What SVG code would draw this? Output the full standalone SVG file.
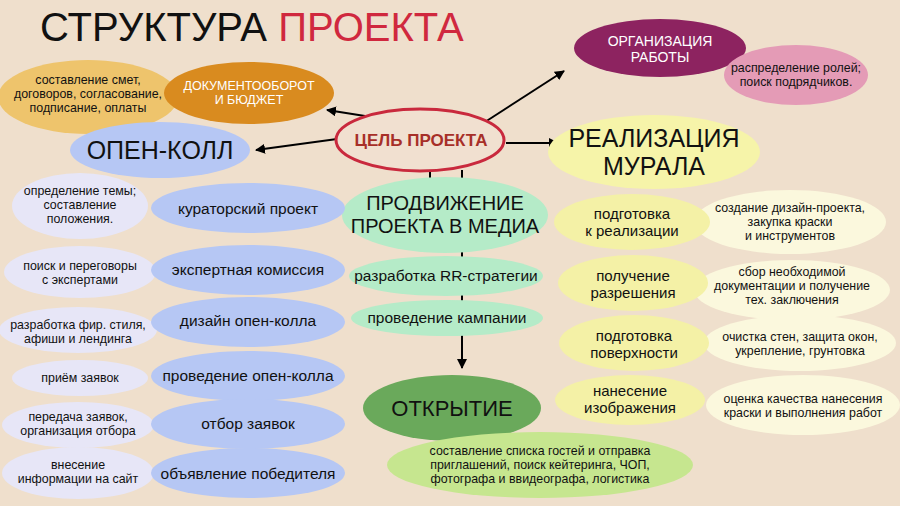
<svg xmlns="http://www.w3.org/2000/svg" width="900" height="506" viewBox="0 0 900 506">
<defs>
<marker id="ah" viewBox="0 0 10 10" refX="9" refY="5" markerWidth="5" markerHeight="5" orient="auto" markerUnits="strokeWidth">
<path d="M0,0 L10,5 L0,10 z" fill="#000"/>
</marker>
<style>
.t{font-family:"Liberation Sans",Arial,sans-serif;fill:#111;text-anchor:middle}
.s{font-size:12.4px}
.m{font-size:15.5px}
.m2{font-size:15px}
.big{font-size:25px}
.w{fill:#fff}
.lav{fill:#e7e6f7}
.blu{fill:#b6c7f4}
.yel{fill:#f4f1a6}
.crm{fill:#fbf8dd}
.mnt{fill:#b5ebc8}
.con{stroke:#000;stroke-width:2;fill:none}
</style>
</defs>
<rect width="900" height="506" fill="#efdfcc"/>
<g id="title">
<text x="40" y="41" font-family="Liberation Sans, Arial, sans-serif" font-size="40"><tspan fill="#111">СТРУКТУРА </tspan><tspan fill="#d0283e">ПРОЕКТА</tspan></text>
</g>
<g id="connectors">
<line class="con" x1="462" y1="170" x2="462" y2="368" marker-end="url(#ah)"/>
<line class="con" x1="365" y1="116" x2="327" y2="110" marker-end="url(#ah)"/>
<line class="con" x1="337" y1="139" x2="256" y2="150" marker-end="url(#ah)"/>
<line class="con" x1="485" y1="122" x2="564" y2="71" marker-end="url(#ah)"/>
<line class="con" x1="506" y1="143" x2="558" y2="143" marker-end="url(#ah)"/>
<line class="con" x1="430" y1="170" x2="430" y2="188" marker-end="url(#ah)"/>
</g>
<g id="smety">
<ellipse cx="88" cy="97" rx="90" ry="37" fill="#eec46c"/>
<text class="t s"><tspan x="88" y="84">составление смет,</tspan><tspan x="88" y="98">договоров, согласование,</tspan><tspan x="88" y="112">подписание, оплаты</tspan></text>
</g>
<g id="dokument">
<ellipse cx="249" cy="93" rx="85" ry="31" fill="#d98b1f"/>
<text class="t" font-size="12.5"><tspan x="249" y="90" class="w">ДОКУМЕНТООБОРОТ</tspan><tspan x="249" y="104" class="w">И БЮДЖЕТ</tspan></text>
</g>
<g id="opencall">
<ellipse cx="160" cy="150" rx="90" ry="28" class="blu"/>
<text class="t big" x="160" y="159">ОПЕН-КОЛЛ</text>
</g>
<g id="goal">
<ellipse cx="420" cy="140" rx="84" ry="31" fill="#f1e0d0" stroke="#c9293d" stroke-width="3"/>
<text class="t" x="421" y="146" font-size="17" font-weight="bold" style="fill:#a72f28">ЦЕЛЬ ПРОЕКТА</text>
</g>
<g id="org">
<ellipse cx="660" cy="48" rx="86" ry="29" fill="#8d2360"/>
<text class="t" font-size="14"><tspan x="660" y="46" class="w">ОРГАНИЗАЦИЯ</tspan><tspan x="660" y="62" class="w">РАБОТЫ</tspan></text>
</g>
<g id="roles">
<ellipse cx="796" cy="75" rx="72" ry="30" fill="#e49bb6"/>
<text class="t s"><tspan x="796" y="72">распределение ролей;</tspan><tspan x="796" y="86">поиск подрядчиков.</tspan></text>
</g>
<g id="mural">
<ellipse cx="654" cy="152" rx="106" ry="37" fill="#f6f4a9"/>
<text class="t big"><tspan x="654" y="147">РЕАЛИЗАЦИЯ</tspan><tspan x="654" y="175">МУРАЛА</tspan></text>
</g>
<g id="media">
<ellipse cx="445" cy="215" rx="103" ry="38" class="mnt"/>
<text class="t" font-size="20"><tspan x="445" y="210">ПРОДВИЖЕНИЕ</tspan><tspan x="445" y="233">ПРОЕКТА В МЕДИА</tspan></text>
</g>
<g id="rr">
<ellipse cx="446" cy="276" rx="97" ry="20" class="mnt"/>
<text class="t m" x="446" y="281">разработка RR-стратегии</text>
</g>
<g id="campaign">
<ellipse cx="447" cy="318" rx="96" ry="18" class="mnt"/>
<text class="t m" x="447" y="323">проведение кампании</text>
</g>
<g id="opening">
<ellipse cx="452" cy="408" rx="89" ry="33" fill="#6aa95b"/>
<text class="t" x="452" y="416" font-size="22">ОТКРЫТИЕ</text>
</g>
<g id="guests">
<ellipse cx="540" cy="465" rx="153" ry="33" fill="#c6e68f"/>
<text class="t s"><tspan x="540" y="455">составление списка гостей и отправка</tspan><tspan x="540" y="469">приглашений, поиск кейтеринга, ЧОП,</tspan><tspan x="540" y="483">фотографа и ввидеографа, логистика</tspan></text>
</g>
<g id="l1">
<ellipse cx="80" cy="206" rx="68" ry="33" class="lav"/>
<text class="t s"><tspan x="80" y="195">определение темы;</tspan><tspan x="80" y="209">составление</tspan><tspan x="80" y="223">положения.</tspan></text>
<ellipse cx="248" cy="208" rx="97" ry="25" class="blu"/>
<text class="t m" x="248" y="214">кураторский проект</text>
</g>
<g id="l2">
<ellipse cx="80" cy="272" rx="76" ry="26" class="lav"/>
<text class="t s"><tspan x="80" y="270">поиск и переговоры</tspan><tspan x="80" y="284">с экспертами</tspan></text>
<ellipse cx="248" cy="270" rx="97" ry="25" class="blu"/>
<text class="t m" x="248" y="275">экспертная комиссия</text>
</g>
<g id="l3">
<ellipse cx="78" cy="330" rx="79" ry="23" class="lav"/>
<text class="t s"><tspan x="78" y="329">разработка фир. стиля,</tspan><tspan x="78" y="343">афиши и лендинга</tspan></text>
<ellipse cx="248" cy="322" rx="97" ry="25" class="blu"/>
<text class="t m" x="248" y="326">дизайн опен-колла</text>
</g>
<g id="l4">
<ellipse cx="80" cy="378" rx="68" ry="18" class="lav"/>
<text class="t s" x="80" y="382">приём заявок</text>
<ellipse cx="248" cy="376" rx="97" ry="25" class="blu"/>
<text class="t m" x="248" y="381">проведение опен-колла</text>
</g>
<g id="l5">
<ellipse cx="78" cy="425" rx="76" ry="23" class="lav"/>
<text class="t s"><tspan x="78" y="421">передача заявок,</tspan><tspan x="78" y="435">организация отбора</tspan></text>
<ellipse cx="248" cy="424" rx="97" ry="25" class="blu"/>
<text class="t m" x="248" y="429">отбор заявок</text>
</g>
<g id="l6">
<ellipse cx="78" cy="473" rx="76" ry="26" class="lav"/>
<text class="t s"><tspan x="78" y="469">внесение</tspan><tspan x="78" y="483">информации на сайт</tspan></text>
<ellipse cx="248" cy="473" rx="97" ry="25" class="blu"/>
<text class="t m" x="248" y="479">объявление победителя</text>
</g>
<g id="r1">
<ellipse cx="790" cy="222" rx="96" ry="32" class="crm"/>
<text class="t s"><tspan x="790" y="212">создание дизайн-проекта,</tspan><tspan x="790" y="226">закупка краски</tspan><tspan x="790" y="240">и инструментов</tspan></text>
<ellipse cx="632" cy="222" rx="78" ry="28" class="yel"/>
<text class="t m2"><tspan x="632" y="219">подготовка</tspan><tspan x="632" y="236">к реализации</tspan></text>
</g>
<g id="r2">
<ellipse cx="792" cy="290" rx="98" ry="30" class="crm"/>
<text class="t s"><tspan x="792" y="276">сбор необходимой</tspan><tspan x="792" y="290">документации и получение</tspan><tspan x="792" y="304">тех. заключения</tspan></text>
<ellipse cx="633" cy="283" rx="75" ry="28" class="yel"/>
<text class="t m2"><tspan x="633" y="281">получение</tspan><tspan x="633" y="298">разрешения</tspan></text>
</g>
<g id="r3">
<ellipse cx="800" cy="343" rx="96" ry="28" class="crm"/>
<text class="t s"><tspan x="800" y="341">очистка стен, защита окон,</tspan><tspan x="800" y="355">укрепление, грунтовка</tspan></text>
<ellipse cx="634" cy="343" rx="75" ry="28" class="yel"/>
<text class="t m2"><tspan x="634" y="341">подготовка</tspan><tspan x="634" y="358">поверхности</tspan></text>
</g>
<g id="r4">
<ellipse cx="803" cy="405" rx="97" ry="30" class="crm"/>
<text class="t s"><tspan x="803" y="403">оценка качества нанесения</tspan><tspan x="803" y="417">краски и выполнения работ</tspan></text>
<ellipse cx="630" cy="400" rx="75" ry="25" class="yel"/>
<text class="t m2"><tspan x="630" y="396">нанесение</tspan><tspan x="630" y="413">изображения</tspan></text>
</g>
</svg>
